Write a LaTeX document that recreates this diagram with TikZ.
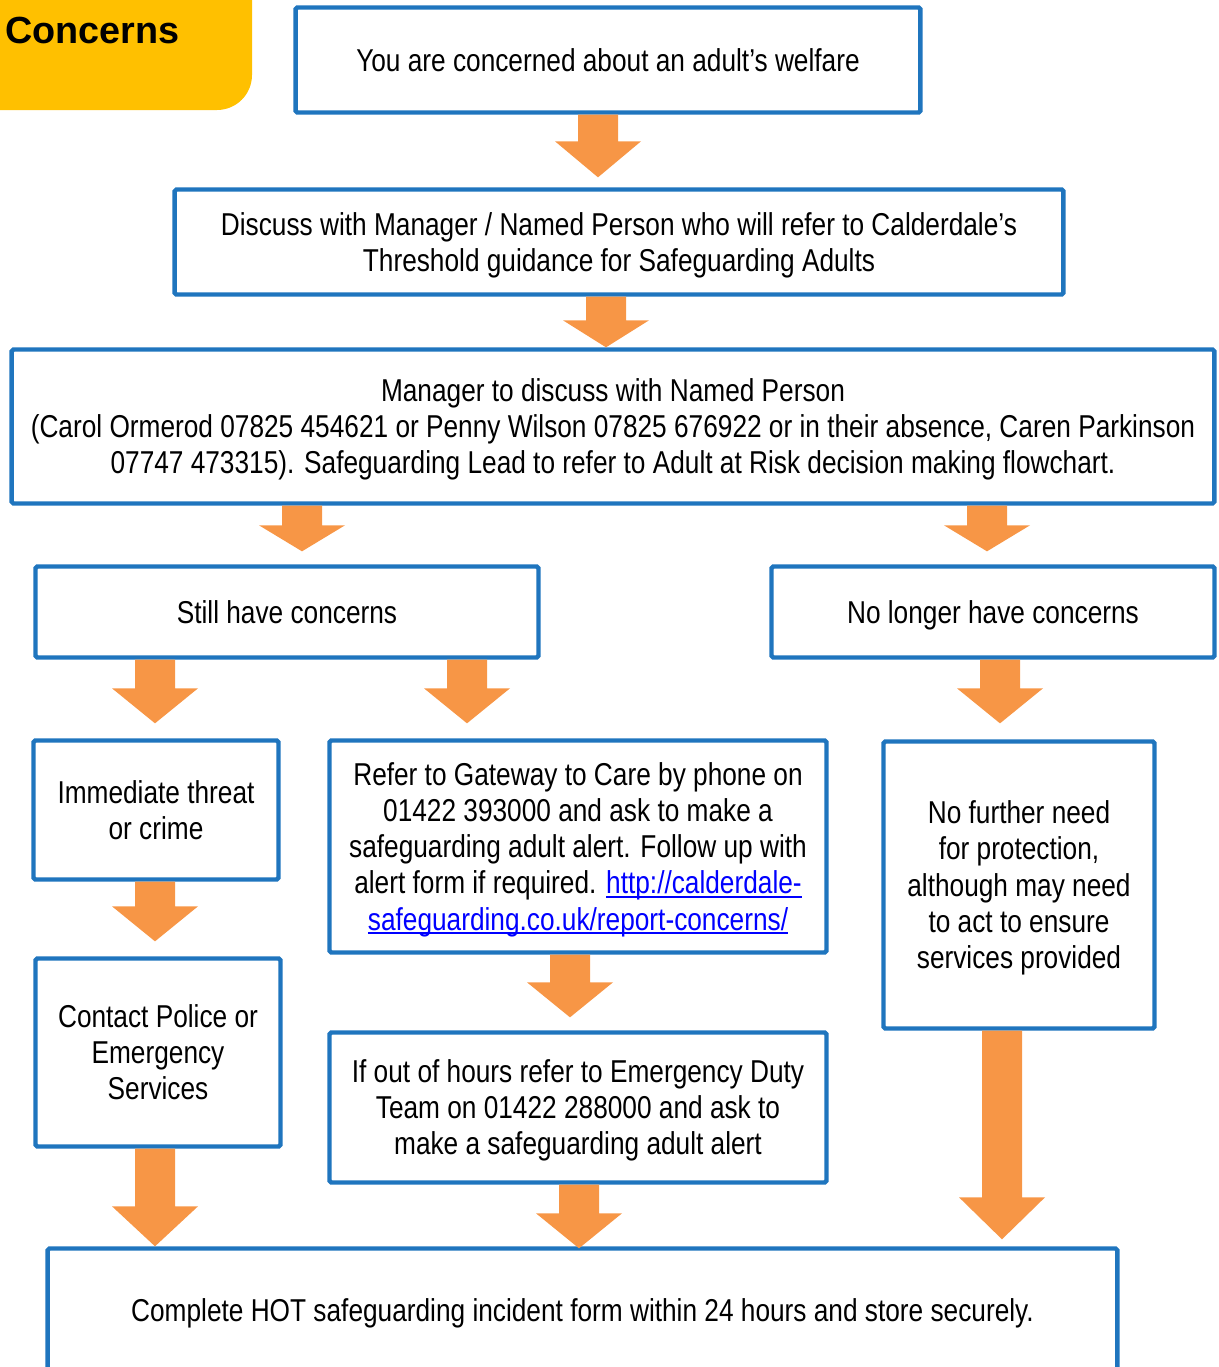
\documentclass[tikz,border=0pt]{standalone}
\usepackage{fontspec}
\setmainfont{Liberation Sans}[FakeStretch=0.83]
\newfontfamily\tagfont{Liberation Sans}
\usetikzlibrary{calc}
\definecolor{boxblue}{RGB}{31,117,190}
\definecolor{arroworange}{RGB}{247,150,70}
\definecolor{tagyellow}{RGB}{255,192,0}
\definecolor{linkblue}{RGB}{0,0,255}
\newcommand\weblink[1]{\textcolor{linkblue}{\setbox0\hbox{#1}\rlap{\rule[-2.2pt]{\wd0}{0.8pt}}\box0}}
% centred lines of a box, set a little low as in the original
\newcommand\boxlines[1]{\raisebox{-2.2pt}[\height][\depth]{\begin{tabular}{@{}c@{}}#1\end{tabular}}}

\begin{document}
\begin{tikzpicture}[x=0.02cm,y=-0.02cm]
    % `stepbox' is used for every blue framed box of the chart.
    % `fatarrow' is the orange block arrow, its option is the head length.
    \tikzstyle{stepbox} = [draw=boxblue,line width=2.5pt,rounded corners=1pt,fill=white,
      inner sep=0pt,font=\fontsize{18}{20.6}\selectfont]
    \tikzset{fatarrow/.style={fill=arroworange,draw=none,
      to path={let \p1=(\tikztostart), \p2=(\tikztotarget) in
        ([shift={(-20,0)}]\x1,\y1) -- ([shift={(-20,-#1)}]\x1,\y2)
        -- ([shift={(-43,-#1)}]\x1,\y2) -- (\x1,\y2)
        -- ([shift={(43,-#1)}]\x1,\y2) -- ([shift={(20,-#1)}]\x1,\y2)
        -- ([shift={(20,0)}]\x1,\y1) -- cycle}},
      fatarrow/.default=36}
    %
    \useasboundingbox (0,0) rectangle (1219,1367);
    \clip (0,0) rectangle (1219,1367);
    % Title tag in the top left corner.
    \fill[tagyellow,rounded corners=0.7cm] (-40,-40) rectangle (252,110);
    \node[anchor=west,inner sep=0pt,font=\tagfont\bfseries\fontsize{21.5}{24}\selectfont] (tag) at (5,30) {Concerns};
    %
    \node[stepbox,minimum width=12.5cm,minimum height=2.1cm] (you) at (608,60)
      {\boxlines{You are concerned about an adult’s welfare}};
    \node[stepbox,minimum width=17.78cm,minimum height=2.1cm] (discuss) at (619,242)
      {\boxlines{Discuss with Manager / Named Person who will refer to Calderdale’s\\
       Threshold guidance for Safeguarding Adults}};
    \node[stepbox,minimum width=24.06cm,minimum height=3.08cm] (manager) at (613,426.5)
      {\boxlines{Manager to discuss with Named Person\\
       (Carol Ormerod 07825 454621 or Penny Wilson 07825 676922 or in their absence, Caren Parkinson\\
       07747 473315). Safeguarding Lead to refer to Adult at Risk decision making flowchart.}};
    \node[stepbox,minimum width=10.06cm,minimum height=1.82cm] (still) at (287,612)
      {\boxlines{Still have concerns}};
    \node[stepbox,minimum width=8.86cm,minimum height=1.82cm] (nolonger) at (993,612)
      {\boxlines{No longer have concerns}};
    \node[stepbox,minimum width=4.9cm,minimum height=2.78cm] (threat) at (156,810)
      {\boxlines{Immediate threat\\or crime}};
    \node[stepbox,minimum width=9.94cm,minimum height=4.24cm] (gateway) at (578,846.5)
      {\boxlines{Refer to Gateway to Care by phone on\\
       01422 393000 and ask to make a\\
       safeguarding adult alert. Follow up with\\
       alert form if required. \weblink{http://calderdale-}\\
       \weblink{safeguarding.co.uk/report-concerns/}}};
    \node[stepbox,minimum width=5.42cm,minimum height=5.74cm] (nofurther) at (1019,885)
      {\boxlines{No further need\\for protection,\\although may need\\to act to ensure\\services provided}};
    \node[stepbox,minimum width=4.9cm,minimum height=3.76cm] (police) at (158,1052.5)
      {\boxlines{Contact Police or\\Emergency\\Services}};
    \node[stepbox,minimum width=9.94cm,minimum height=3cm] (outofhours) at (578,1107.5)
      {\boxlines{If out of hours refer to Emergency Duty\\
       Team on 01422 288000 and ask to\\
       make a safeguarding adult alert}};
    \node[stepbox,minimum width=21.4cm,minimum height=2.46cm] (complete) at (582.5,1310)
      {\boxlines{Complete HOT safeguarding incident form within 24 hours and store securely.}};
    %
    % Arrows between the boxes.
    \path[fatarrow] ($(you.south)+(-10,0)$) to ($(discuss.north)+(0,-10)$);
    \path[fatarrow=27] ($(discuss.south)+(-13,0)$) to (manager.north);
    \path[fatarrow=26] ($(manager.south)+(-311,0)$) to ($(still.north)+(0,-13)$);
    \path[fatarrow=26] ($(manager.south)+(374,0)$) to ($(nolonger.north)+(0,-13)$);
    \path[fatarrow=35] ($(still.south)+(-132,0)$) to ($(threat.north)+(0,-15)$);
    \path[fatarrow=35] ($(still.south)+(180,0)$) to ($(gateway.north)+(0,-15)$);
    \path[fatarrow=35] ($(nolonger.south)+(7,0)$) to ($(nofurther.north)+(0,-16)$);
    \path[fatarrow=35] ($(threat.south)+(-1,0)$) to ($(police.north)+(0,-15)$);
    \path[fatarrow=35] ($(gateway.south)+(-8,0)$) to ($(outofhours.north)+(0,-13)$);
    \path[fatarrow=40] ($(police.south)+(-3,0)$) to (complete.north);
    \path[fatarrow=35] ($(outofhours.south)+(1,0)$) to ($(complete.north)+(0,2)$);
    \path[fatarrow=42] ($(nofurther.south)+(-17,0)$) to ($(complete.north)+(0,-7)$);
\end{tikzpicture}
\end{document}
